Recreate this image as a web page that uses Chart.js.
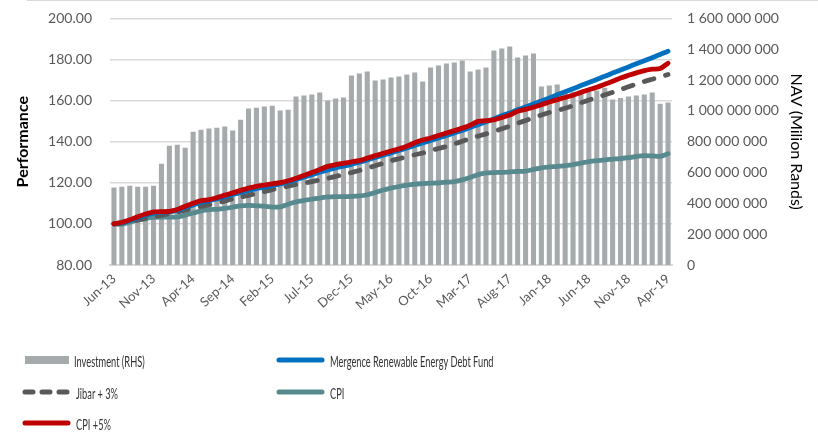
<!DOCTYPE html>
<html>
<head>
<meta charset="utf-8">
<script src="https://cdn.jsdelivr.net/npm/chart.js@4.4.1/dist/chart.umd.min.js"></script>
<style>
  html, body { margin: 0; padding: 0; background: #fff; }
  #wrap { position: relative; width: 818px; height: 432px; overflow: hidden; }
  #topline { position: absolute; left: 27px; right: 0; top: 0; height: 1px; background: #d9d9d9; z-index: 2; }
  #box { position: absolute; left: 0; top: -8px; width: 818px; height: 348px; }
  #legend { position: absolute; left: 0; top: 0; width: 818px; height: 432px; pointer-events: none;
    font-family: Lato, "Open Sans", sans-serif; font-size: 16px; color: #333; }
  .item { position: absolute; display: flex; align-items: center; height: 20px; white-space: nowrap; }
  .item svg { margin-right: 4px; flex: none; }
  .item span { display: inline-block; transform: scaleX(0.58); transform-origin: left center; }
</style>
</head>
<body>
<div id="wrap">
  <div id="box"><canvas id="chart"></canvas></div>
  <div id="topline"></div>
  <div id="legend"></div>
</div>
<script>
/* Mergence Renewable Energy Debt Fund - performance vs benchmarks, NAV on RHS */
const months = [
  "Jun-13", "Jul-13", "Aug-13", "Sep-13", "Oct-13", "Nov-13", "Dec-13", "Jan-14", "Feb-14", "Mar-14",
  "Apr-14", "May-14", "Jun-14", "Jul-14", "Aug-14", "Sep-14", "Oct-14", "Nov-14", "Dec-14", "Jan-15",
  "Feb-15", "Mar-15", "Apr-15", "May-15", "Jun-15", "Jul-15", "Aug-15", "Sep-15", "Oct-15", "Nov-15",
  "Dec-15", "Jan-16", "Feb-16", "Mar-16", "Apr-16", "May-16", "Jun-16", "Jul-16", "Aug-16", "Sep-16",
  "Oct-16", "Nov-16", "Dec-16", "Jan-17", "Feb-17", "Mar-17", "Apr-17", "May-17", "Jun-17", "Jul-17",
  "Aug-17", "Sep-17", "Oct-17", "Nov-17", "Dec-17", "Jan-18", "Feb-18", "Mar-18", "Apr-18", "May-18",
  "Jun-18", "Jul-18", "Aug-18", "Sep-18", "Oct-18", "Nov-18", "Dec-18", "Jan-19", "Feb-19", "Mar-19",
  "Apr-19"
];

// NAV (rands), right axis
const investment = [
  503e6, 507e6, 514e6, 507e6, 507e6, 514e6, 657e6, 774e6, 780e6, 761e6,
  865e6, 878e6, 885e6, 891e6, 898e6, 872e6, 943e6, 1015e6, 1021e6, 1028e6,
  1034e6, 1002e6, 1008e6, 1093e6, 1099e6, 1106e6, 1119e6, 1067e6, 1080e6, 1086e6,
  1229e6, 1242e6, 1255e6, 1197e6, 1203e6, 1216e6, 1223e6, 1236e6, 1249e6, 1190e6,
  1281e6, 1294e6, 1307e6, 1314e6, 1327e6, 1255e6, 1268e6, 1281e6, 1392e6, 1405e6,
  1418e6, 1346e6, 1359e6, 1372e6, 1158e6, 1164e6, 1171e6, 1120e6, 1124e6, 1128e6,
  1130e6, 1132e6, 1150e6, 1073e6, 1083e6, 1093e6, 1099e6, 1106e6, 1119e6, 1047e6,
  1054e6
];

const fund = [
  100.0, 100.6, 101.6, 103.0, 104.2, 105.2, 105.7, 106.0, 106.6, 107.9,
  109.2, 110.4, 111.2, 112.2, 113.2, 114.3, 115.3, 116.3, 117.2, 117.9,
  118.6, 119.4, 120.4, 121.5, 122.7, 123.9, 125.1, 126.3, 127.3, 128.1,
  129.0, 130.0, 131.1, 132.3, 133.4, 134.5, 135.7, 136.9, 138.2, 139.4,
  140.6, 141.8, 143.0, 144.3, 145.5, 146.9, 148.3, 149.7, 151.1, 152.6,
  154.0, 155.5, 156.9, 158.4, 159.8, 161.3, 162.8, 164.3, 165.8, 167.3,
  168.8, 170.3, 171.8, 173.4, 174.9, 176.4, 177.9, 179.4, 180.9, 182.4,
  184.0
];

const jibar3 = [
  100.0, 100.4, 101.0, 101.8, 102.6, 103.4, 104.2, 105.0, 105.8, 106.7,
  107.6, 108.5, 109.3, 110.2, 111.1, 112.2, 113.0, 113.9, 114.8, 115.7,
  116.7, 117.6, 118.4, 119.2, 119.8, 120.6, 121.4, 122.2, 123.1, 124.0,
  125.0, 126.0, 127.1, 128.3, 129.5, 130.7, 131.7, 132.7, 133.6, 134.5,
  135.6, 136.7, 137.7, 138.9, 140.2, 141.5, 142.7, 143.8, 145.0, 146.3,
  147.6, 149.0, 150.3, 151.6, 153.0, 154.2, 155.2, 156.3, 157.6, 159.0,
  160.3, 161.5, 162.8, 164.0, 165.4, 166.7, 168.1, 169.3, 170.4, 171.5,
  172.7
];

const cpi = [
  100.0, 99.8, 100.8, 102.0, 102.7, 103.2, 103.3, 103.3, 103.4, 104.3,
  105.3, 106.3, 106.9, 107.1, 107.5, 108.1, 108.8, 109.0, 108.8, 108.6,
  108.2, 108.3, 109.6, 110.7, 111.4, 112.1, 112.6, 113.1, 113.3, 113.3,
  113.4, 113.6, 114.2, 115.3, 116.5, 117.4, 118.2, 118.9, 119.4, 119.6,
  119.8, 120.0, 120.3, 120.6, 121.4, 122.6, 124.0, 124.8, 125.0, 125.1,
  125.3, 125.5, 125.7, 126.5, 127.3, 127.7, 128.0, 128.4, 128.9, 129.6,
  130.3, 130.8, 131.2, 131.5, 131.8, 132.2, 132.8, 133.2, 133.1, 132.9,
  134.1
];

const cpi5 = [
  100.0, 100.8, 102.0, 103.5, 104.8, 105.8, 106.0, 106.1, 107.0, 108.6,
  110.0, 111.3, 111.8, 112.8, 114.0, 115.1, 116.3, 117.4, 118.3, 118.9,
  119.5, 120.1, 121.0, 122.2, 123.6, 125.0, 126.5, 128.0, 128.8, 129.5,
  130.2, 130.8, 132.0, 133.2, 134.3, 135.5, 136.5, 137.8, 139.5, 140.8,
  141.8, 143.0, 144.2, 145.4, 146.6, 148.0, 149.9, 150.2, 150.6, 151.8,
  153.0, 154.8, 155.7, 156.8, 158.0, 159.3, 160.5, 161.5, 162.6, 164.0,
  165.3, 166.5, 168.0, 169.4, 171.0, 172.3, 173.5, 174.6, 175.3, 175.6,
  178.2
];

const C = {
  bar: "#a5aaad",
  fund: "#0070c0",
  jibar: "#595959",
  cpi: "#568a8e",
  cpi5: "#c00000",
  grid: "#d9d9d9",
  tick: "#595959",
};
const tickFont = { family: "Lato, 'Open Sans', sans-serif", size: 14 };

function spaced(v) {
  return String(Math.round(v)).replace(/\B(?=(\d{3})+(?!\d))/g, " ");
}

function lineSet(label, data, color, order, extra) {
  return Object.assign({
    type: "line",
    label: label,
    data: data,
    yAxisID: "y",
    borderColor: color,
    backgroundColor: color,
    borderWidth: 4.8,
    pointRadius: 0,
    tension: 0.3,
    borderCapStyle: "round",
    borderJoinStyle: "round",
    order: order,
  }, extra || {});
}

const chart = new Chart(document.getElementById("chart"), {
  type: "bar",
  data: {
    labels: months,
    datasets: [
      {
        type: "bar",
        label: "Investment (RHS)",
        data: investment,
        yAxisID: "y2",
        backgroundColor: C.bar,
        barPercentage: 0.64,
        categoryPercentage: 1,
        order: 10,
      },
      lineSet("Mergence Renewable Energy Debt Fund", fund, C.fund, 3),
      lineSet("Jibar + 3%", jibar3, C.jibar, 4, { borderDash: [10, 12] }),
      lineSet("CPI", cpi, C.cpi, 5),
      lineSet("CPI +5%", cpi5, C.cpi5, 1),
    ],
  },
  options: {
    responsive: true,
    maintainAspectRatio: false,
    animation: false,
    layout: { padding: { top: 11, left: 0, right: 0, bottom: 0 } },
    plugins: { legend: { display: false }, tooltip: { enabled: false } },
    scales: {
      x: {
        offset: true,
        grid: { display: false, drawTicks: false },
        border: { display: true, color: C.grid, width: 2 },
        ticks: {
          autoSkip: false,
          minRotation: 42,
          maxRotation: 42,
          padding: 6,
          color: C.tick,
          font: { family: "Lato, 'Open Sans', sans-serif", size: 13 },
          callback: (v, i) => (i % 5 === 0 ? months[i] : ""),
        },
        afterFit: (s) => { s.height = 75; },
      },
      y: {
        position: "left",
        min: 80,
        max: 200,
        ticks: { stepSize: 20, padding: 18, color: C.tick, font: tickFont, callback: (v) => v.toFixed(2) },
        grid: { color: C.grid, lineWidth: 1.5, drawTicks: false },
        border: { display: false },
        title: {
          display: true,
          text: "Performance",
          color: "#000",
          font: { family: "Lato, 'Open Sans', sans-serif", size: 16, weight: "bold" },
          padding: { top: 13, bottom: 0 },
        },
        afterFit: (s) => { s.width = 110; },
      },
      y2: {
        position: "right",
        min: 0,
        max: 1.6e9,
        ticks: { stepSize: 2e8, padding: 15, color: C.tick, font: tickFont, callback: (v) => spaced(v) },
        grid: { display: false, drawTicks: false },
        border: { display: false },
        title: {
          display: true,
          text: "NAV (Milion Rands)",
          color: "#000",
          font: { family: "Lato, 'Open Sans', sans-serif", size: 16 },
          padding: { top: 12, bottom: 0 },
        },
        afterFit: (s) => { s.width = 146; },
      },
    },
  },
});

// legend drawn as html, two columns like the source
function swatch(ds) {
  if (ds.type === "bar") {
    return `<svg width="46" height="10"><rect x="1" y="1" width="44" height="8" fill="${ds.backgroundColor}"/></svg>`;
  }
  const dash = ds.borderDash ? ' stroke-dasharray="8 9"' : "";
  return `<svg width="50" height="10"><line x1="3" y1="5" x2="46" y2="5" stroke="${ds.borderColor}" stroke-width="5" stroke-linecap="round"${dash}/></svg>`;
}

const legendPos = [
  [24, 350], [276, 350],
  [22, 382], [276, 382],
  [22, 413],
];
const legendEl = document.getElementById("legend");
chart.data.datasets.forEach((ds, i) => {
  const [x, y] = legendPos[i];
  const div = document.createElement("div");
  div.className = "item";
  div.style.left = x + "px";
  div.style.top = y + "px";
  div.innerHTML = swatch(ds) + `<span>${ds.label}</span>`;
  legendEl.appendChild(div);
});
</script>
</body>
</html>
